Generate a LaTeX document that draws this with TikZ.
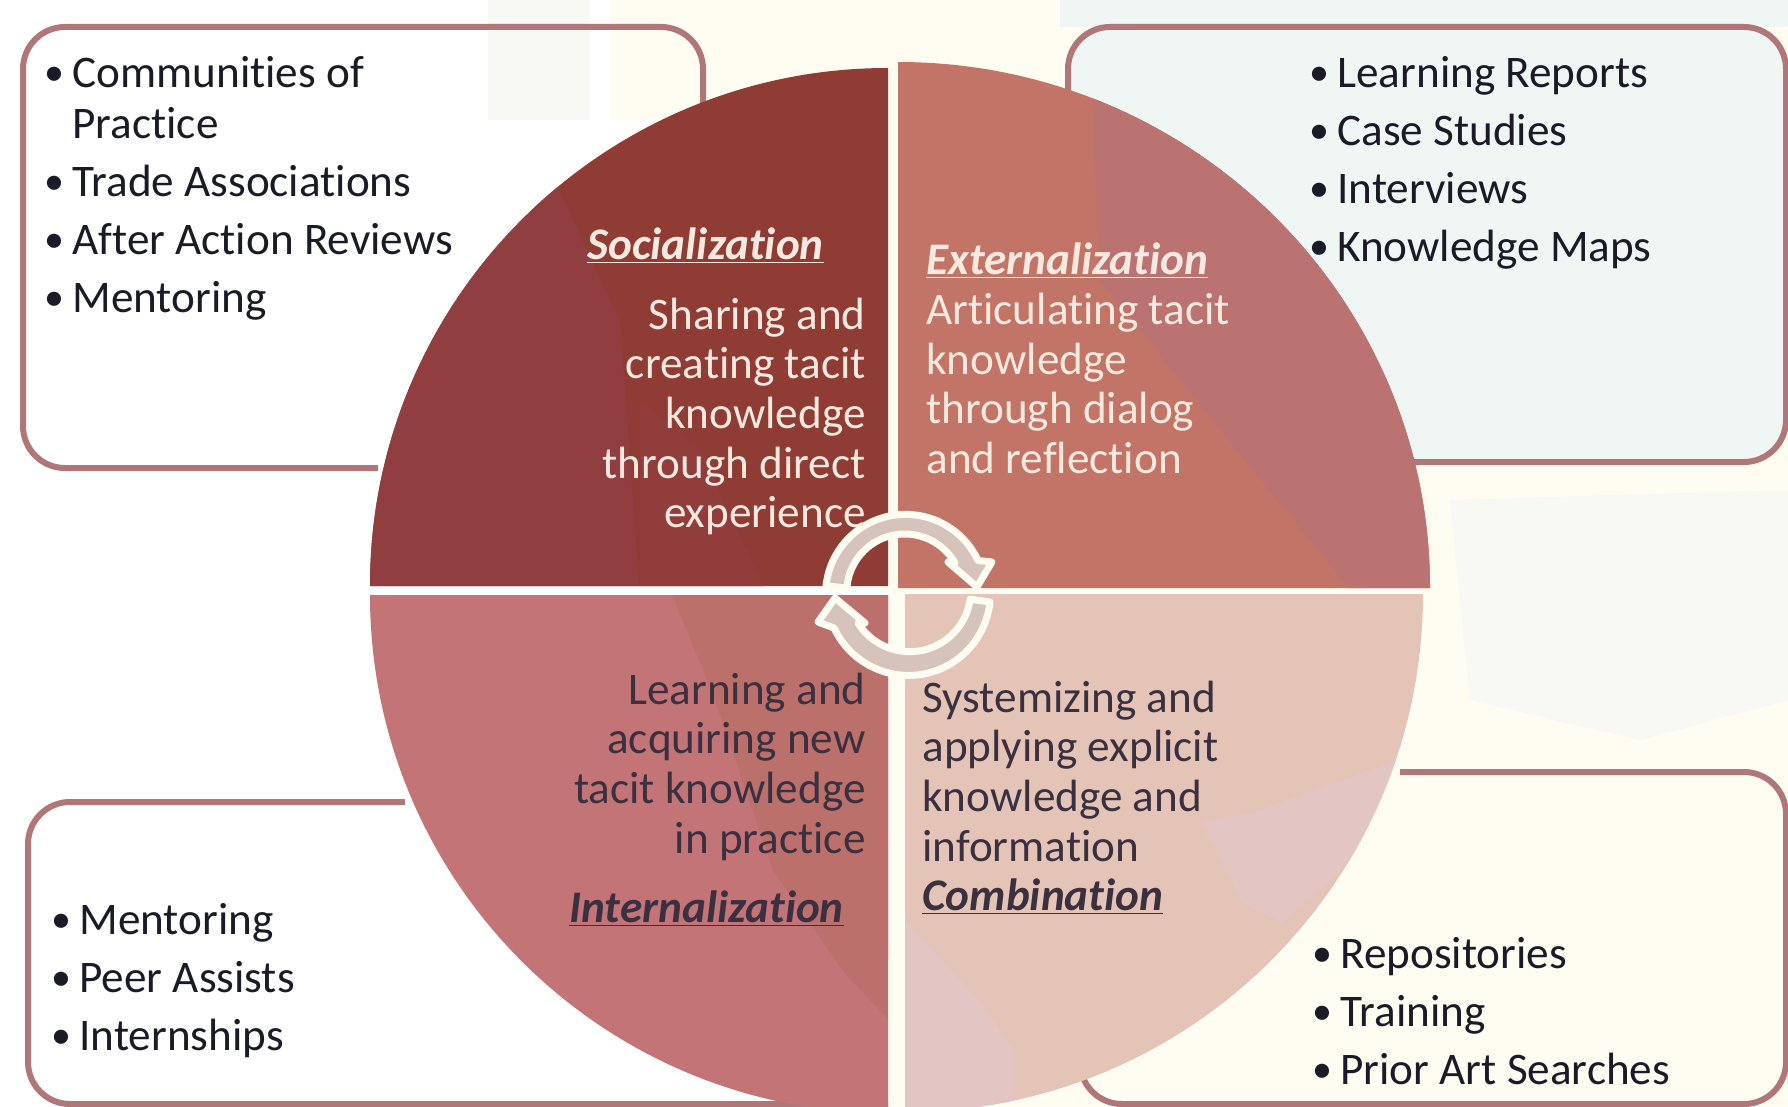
\documentclass[tikz,border=0pt]{standalone}
\usepackage{fontspec}
\setmainfont{Carlito}[Ligatures=CommonOff]
\definecolor{cream}{HTML}{FFFDF1}
\definecolor{panelblue}{HTML}{EFF6F4}
\definecolor{paleA}{HTML}{F8F8F4}
\definecolor{boxline}{HTML}{B07678}
\definecolor{inkdark}{HTML}{1B1B28}
\definecolor{inkmid}{HTML}{3A3040}
\definecolor{inklight}{HTML}{F9E9E0}
\definecolor{qTL}{HTML}{8E3C34}
\definecolor{qTLb}{HTML}{913E40}
\definecolor{qTR}{HTML}{C27567}
\definecolor{qTRb}{HTML}{BA7370}
\definecolor{qBL}{HTML}{C27476}
\definecolor{qBLb}{HTML}{BC706C}
\definecolor{qBR}{HTML}{E4C4B6}
\definecolor{qBRb}{HTML}{E3C6C4}
\definecolor{arrowfill}{HTML}{D6C4BC}
\tikzset{
  x=0.5pt,y=0.5pt,
  panel/.style={draw=boxline,line width=3pt,rounded corners=21pt},
  txt/.style={inner sep=0pt,font=\fontsize{22.6}{24.8}\selectfont,execute at begin node=\strut},
  listtxt/.style={txt,font=\fontsize{22.6}{25.5}\selectfont,anchor=north west,align=left,text=inkdark},
  darktxtR/.style={txt,anchor=north east,align=right,text=inklight},
  darktxtL/.style={txt,anchor=north west,align=left,text=inklight},
  midtxtR/.style={txt,anchor=north east,align=right,text=inkmid},
  midtxtL/.style={txt,anchor=north west,align=left,text=inkmid},
  cyc/.style={fill=arrowfill,draw=cream,line width=3.5pt,line join=round},
}
\newcommand{\itm}[1]{\makebox[14pt][l]{\raisebox{0.8pt}{\fontsize{20}{20}\selectfont\textbullet}}#1}
\newcommand{\head}[1]{\underline{\textbf{\textit{#1}}}}
\begin{document}
\begin{tikzpicture}
\useasboundingbox (0,-1107) rectangle (1788,0);
% background
\fill[white] (0,-1107) rectangle (1788,0);
\fill[cream] (610,0) rectangle (1788,-120);
\fill[cream] (880,0) rectangle (1788,-1107);
\fill[paleA] (488,0) rectangle (590,-120);
\fill[panelblue] (1060,0) rectangle (1788,-27);
\fill[paleA] (1450,-500) -- (1788,-490) -- (1788,-700) -- (1640,-740) -- (1470,-700) -- cycle;
% panels
\draw[panel] (378,-468) -- (23,-468) -- (23,-27) -- (703,-27) -- (703,-110);
\draw[panel] (405,-802) -- (28,-802) -- (28,-1104) -- (888,-1104);
\path[fill=panelblue,rounded corners=21pt] (1068,-110) -- (1068,-27) -- (1786,-27) -- (1786,-462) -- (1300,-462) -- cycle;
\draw[panel] (1068,-110) -- (1068,-27) -- (1786,-27) -- (1786,-462) -- (1300,-462);
\draw[panel] (1400,-772) -- (1786,-772) -- (1786,-1104) -- (1080,-1104) -- (1080,-1070);
% quadrants
\begin{scope}
\clip (888,-586) -- (370,-586) arc[start angle=180,end angle=90,radius=518] -- cycle;
\fill[qTL] (300,-600) rectangle (900,0);
\fill[qTLb] (300,-600) -- (640,-600) -- (620,-320) -- (540,-150) -- (300,-150) -- cycle;
\fill[qTLb!55!qTL] (640,-600) -- (640,-400) -- (700,-450) -- (770,-600) -- cycle;
\end{scope}
\begin{scope}
\clip (898,-588) -- (1430,-588) arc[start angle=0,end angle=90,x radius=532,y radius=526] -- cycle;
\fill[qTR] (890,-600) rectangle (1440,-50);
\fill[qTRb] (1090,-40) -- (1100,-280) -- (1180,-380) -- (1350,-590) -- (1440,-590) -- (1440,-40) -- cycle;
\end{scope}
\begin{scope}
\clip (888,-595) -- (370,-595) arc[start angle=180,end angle=270,radius=518] -- cycle;
\fill[qBL] (360,-590) rectangle (895,-1120);
\fill[qBLb] (670,-590) -- (711,-689) -- (773,-870) -- (842,-970) -- (888,-1019) -- (895,-590) -- cycle;
\end{scope}
\begin{scope}
\clip (905,-594) -- (1423,-594) arc[start angle=0,end angle=-90,radius=518] -- cycle;
\fill[qBR] (900,-590) rectangle (1430,-1120);
\fill[qBRb] (905,-920) -- (980,-1002) -- (1015,-1052) -- (1015,-1120) -- (905,-1120) -- cycle;
\fill[qBRb] (1200,-821) -- (1249,-814) -- (1430,-748) -- (1394,-821) -- (1283,-923) -- (1242,-903) -- cycle;
\end{scope}
% cycle arrows
\path[cyc] (826,-586) arc[start angle=174,end angle=25,radius=80] -- (992,-562) -- (977,-587) -- (948,-562) -- (955,-563) arc[start angle=30,end angle=176,radius=58] -- cycle;
\path[cyc] (990,-602) arc[start angle=-6,end angle=-155,radius=82] -- (818,-622) -- (835,-598) -- (865,-623) -- (858,-623) arc[start angle=-148,end angle=-8,radius=61] -- cycle;
% texts
\node[listtxt] (tl) at (44,-56) {\itm{Communities of}\\\hspace*{14pt}Practice\\[3.5pt]\itm{Trade Associations}\\[3.5pt]\itm{After Action Reviews}\\[3.5pt]\itm{Mentoring}};
\node[listtxt] (tr) at (1309,-56) {\itm{Learning Reports}\\[3.5pt]\itm{Case Studies}\\[3.5pt]\itm{Interviews}\\[3.5pt]\itm{Knowledge Maps}};
\node[listtxt] (bl) at (51,-903) {\itm{Mentoring}\\[3.5pt]\itm{Peer Assists}\\[3.5pt]\itm{Internships}};
\node[listtxt] (br) at (1312,-937) {\itm{Repositories}\\[3.5pt]\itm{Training}\\[3.5pt]\itm{Prior Art Searches}};
\node[darktxtL] (soch) at (587,-224) {\head{Socialization}};
\node[darktxtR] (soc) at (866,-297.5) {Sharing and\\creating tacit\\knowledge\\through direct\\experience};
\node[darktxtL] (exth) at (926,-239) {\head{Externalization}};
\node[darktxtL] (ext) at (926,-293) {Articulating tacit\\knowledge\\through dialog\\and reflection};
\node[midtxtR] (int) at (866,-672.5) {Learning and\\acquiring new\\tacit knowledge\\in practice};
\node[midtxtL] (inth) at (569,-887) {\head{Internalization}};
\node[midtxtL] (com) at (922,-680.5) {Systemizing and\\applying explicit\\knowledge and\\information};
\node[midtxtL] (comh) at (922,-875) {\head{Combination}};
\end{tikzpicture}
\end{document}
